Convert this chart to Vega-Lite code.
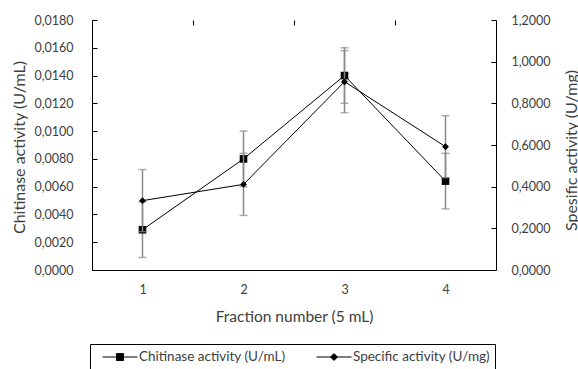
{
  "$schema": "https://vega.github.io/schema/vega-lite/v6.json",
  "width": 404,
  "height": 250,
  "autosize": {"type": "none"},
  "padding": {"left": 92, "top": 20, "right": 82, "bottom": 99},
  "background": "white",
  "config": {
    "view": {"stroke": null},
    "font": "Lato",
    "axis": {"labelFont": "Lato", "titleFont": "Lato", "labelColor": "#404040", "titleColor": "#404040", "domainColor": "#000000", "tickColor": "#000000", "grid": false, "labelFontSize": 12.5, "titleFontSize": 16, "titleFontWeight": "normal", "labelOverlap": false},
    "legend": {"labelFont": "Lato", "labelFontSize": 13.5, "labelColor": "#404040"}
  },
  "data": {"values": [
    {"fraction": 1, "chit": 0.0029, "chitLo": 0.0009, "chitHi": 0.0049, "spec": 0.333, "specLo": 0.184, "specHi": 0.482},
    {"fraction": 2, "chit": 0.0080, "chitLo": 0.0060, "chitHi": 0.0100, "spec": 0.411, "specLo": 0.262, "specHi": 0.560},
    {"fraction": 3, "chit": 0.0140, "chitLo": 0.0120, "chitHi": 0.0160, "spec": 0.904, "specLo": 0.755, "specHi": 1.053},
    {"fraction": 4, "chit": 0.0064, "chitLo": 0.0044, "chitHi": 0.0084, "spec": 0.592, "specLo": 0.443, "specHi": 0.741}
  ]},
  "layer": [
    {
      "encoding": {
        "x": {"field": "fraction", "type": "quantitative", "scale": {"domain": [0.5, 4.5], "nice": false, "zero": false},
          "axis": {"values": [1, 2, 3, 4], "ticks": false, "labelPadding": 13, "title": "Fraction number (5 mL)", "titleFontSize": 15.5, "titlePadding": 14, "labelFlush": false}}
      },
      "layer": [
        {"mark": {"type": "rule", "color": "#8a8a8a", "strokeWidth": 1.5},
          "encoding": {"y": {"field": "chitLo", "type": "quantitative"}, "y2": {"field": "chitHi"}}},
        {"mark": {"type": "tick", "color": "#8a8a8a", "thickness": 1.5, "size": 8, "orient": "horizontal"},
          "encoding": {"y": {"field": "chitLo", "type": "quantitative"}}},
        {"mark": {"type": "tick", "color": "#8a8a8a", "thickness": 1.5, "size": 8, "orient": "horizontal"},
          "encoding": {"y": {"field": "chitHi", "type": "quantitative"}}},
        {"mark": {"type": "line", "color": "black", "strokeWidth": 1},
          "encoding": {"y": {"field": "chit", "type": "quantitative"}}},
        {"mark": {"type": "point", "filled": true, "color": "black", "opacity": 1, "size": 58, "shape": "square"},
          "encoding": {
            "y": {"field": "chit", "type": "quantitative",
              "scale": {"domain": [0, 0.018], "nice": false, "zero": true},
              "axis": {"orient": "left", "values": [0, 0.002, 0.004, 0.006, 0.008, 0.010, 0.012, 0.014, 0.016, 0.018], "tickCount": 12, "labelOverlap": false, "labelExpr": "replace(format(datum.value, '.4f'), '.', ',')", "tickSize": -5, "labelPadding": 24, "title": "Chitinase activity (U/mL)", "titleX": -73, "titleY": 127, "titleAlign": "center", "titleBaseline": "middle", "titleAngle": 270}}
          }},
        {"mark": {"type": "point", "filled": true, "color": "black", "stroke": "black", "strokeWidth": 1, "opacity": 0, "size": 10},
          "encoding": {
            "y": {"field": "chit", "type": "quantitative"},
            "shape": {"datum": "Chitinase activity (U/mL)", "type": "nominal",
              "scale": {"domain": ["Chitinase activity (U/mL)", "Specific activity (U/mg)"], "range": ["M-1,0H1M-0.2,-0.2H0.2V0.2H-0.2Z", "M-1,0H1M0,-0.2L0.2,0L0,0.2L-0.2,0Z"]},
              "legend": {"orient": "none", "legendX": -2, "legendY": 324, "title": null, "direction": "horizontal",
                "strokeColor": "#000000", "fillColor": "white", "padding": 5, "columnPadding": 23, "labelOffset": 1,
                "symbolSize": 1225, "clipHeight": 16, "symbolOffset": 7, "symbolOpacity": 1, "symbolStrokeWidth": 1,
                "encode": {"symbols": {"stroke": {"value": "black"}, "strokeWidth": {"value": 1}, "fill": {"value": "black"}}}}}
          }}
      ]
    },
    {
      "encoding": {
        "x": {"field": "fraction", "type": "quantitative", "scale": {"domain": [0.5, 4.5], "nice": false, "zero": false},
          "axis": {"values": [1.5, 2.5, 3.5], "labels": false, "domain": false, "tickSize": -5, "title": null}}
      },
      "layer": [
        {"mark": {"type": "rule", "color": "#8a8a8a", "strokeWidth": 1.5},
          "encoding": {"y": {"field": "specLo", "type": "quantitative"}, "y2": {"field": "specHi"}}},
        {"mark": {"type": "tick", "color": "#8a8a8a", "thickness": 1.5, "size": 8, "orient": "horizontal"},
          "encoding": {"y": {"field": "specLo", "type": "quantitative"}}},
        {"mark": {"type": "tick", "color": "#8a8a8a", "thickness": 1.5, "size": 8, "orient": "horizontal"},
          "encoding": {"y": {"field": "specHi", "type": "quantitative"}}},
        {"mark": {"type": "line", "color": "black", "strokeWidth": 1},
          "encoding": {"y": {"field": "spec", "type": "quantitative"}}},
        {"mark": {"type": "point", "filled": true, "color": "black", "opacity": 1, "size": 48, "shape": "diamond"},
          "encoding": {
            "y": {"field": "spec", "type": "quantitative",
              "scale": {"domain": [0, 1.2], "nice": false, "zero": true},
              "axis": {"orient": "right", "values": [0, 0.2, 0.4, 0.6, 0.8, 1.0, 1.2], "tickCount": 10, "labelExpr": "replace(format(datum.value, '.4f'), '.', ',')", "tickSize": -5, "labelPadding": 20, "title": "Spesific activity (U/mg)", "titleAngle": 270, "titleX": 75, "titleY": 130, "titleAlign": "center", "titleBaseline": "middle"}}
          }},
        {"mark": {"type": "point", "filled": true, "color": "black", "stroke": "black", "strokeWidth": 1, "opacity": 0, "size": 10},
          "encoding": {
            "y": {"field": "spec", "type": "quantitative"},
            "shape": {"datum": "Specific activity (U/mg)", "type": "nominal"}
          }}
      ]
    }
  ],
  "resolve": {"scale": {"y": "independent"}, "axis": {"x": "independent"}}
}
